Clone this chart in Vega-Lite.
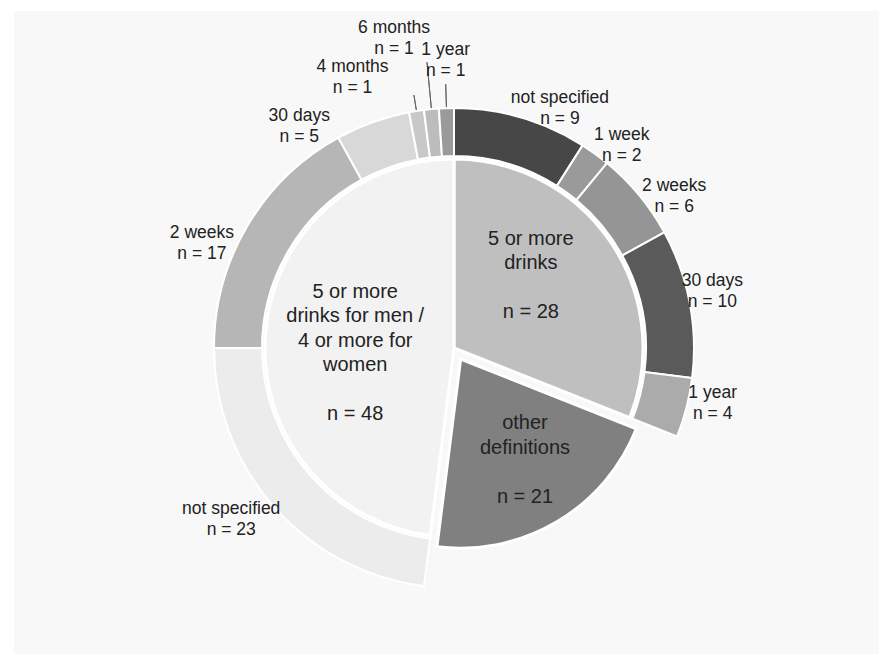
{
  "$schema": "https://vega.github.io/schema/vega-lite/v6.json",
  "width": 865,
  "height": 643,
  "autosize": "none",
  "padding": {"left": 14, "top": 11, "right": 0, "bottom": 0},
  "background": "#ffffff",
  "view": {"stroke": null, "fill": "#f8f8f8"},
  "config": {
    "text": {"font": "Liberation Sans", "color": "#222222", "lineBreak": "\n"}
  },
  "datasets": {
    "inner": [
      {"key": "I1", "name": "5 or more drinks", "n": 28, "weight": 31, "ord": 1, "label": "5 or more\ndrinks", "nlabel": "n = 28"},
      {"key": "I2", "name": "other definitions", "n": 21, "weight": 21, "ord": 2, "label": "other\ndefinitions", "nlabel": "n = 21"},
      {"key": "I3", "name": "5 or more drinks for men / 4 or more for women", "n": 48, "weight": 48, "ord": 3, "label": "5 or more\ndrinks for men /\n4 or more for\nwomen", "nlabel": "n = 48"}
    ],
    "outer": [
      {"key": "A1", "group": "5 or more drinks", "period": "not specified", "n": 9, "ord": 1, "label": "not specified\nn = 9"},
      {"key": "A2", "group": "5 or more drinks", "period": "1 week", "n": 2, "ord": 2, "label": "1 week\nn = 2"},
      {"key": "A3", "group": "5 or more drinks", "period": "2 weeks", "n": 6, "ord": 3, "label": "2 weeks\nn = 6"},
      {"key": "A4", "group": "5 or more drinks", "period": "30 days", "n": 10, "ord": 4, "label": "30 days\nn = 10"},
      {"key": "A5", "group": "5 or more drinks", "period": "1 year", "n": 4, "ord": 5, "label": "1 year\nn = 4"},
      {"key": "X", "group": "other definitions", "period": "", "n": 21, "ord": 6, "label": ""},
      {"key": "B1", "group": "5 or more drinks for men / 4 or more for women", "period": "not specified", "n": 23, "ord": 7, "label": "not specified\nn = 23"},
      {"key": "B2", "group": "5 or more drinks for men / 4 or more for women", "period": "2 weeks", "n": 17, "ord": 8, "label": "2 weeks\nn = 17"},
      {"key": "B3", "group": "5 or more drinks for men / 4 or more for women", "period": "30 days", "n": 5, "ord": 9, "label": "30 days\nn = 5"},
      {"key": "B4", "group": "5 or more drinks for men / 4 or more for women", "period": "4 months", "n": 1, "ord": 10, "label": "4 months\nn = 1"},
      {"key": "B5", "group": "5 or more drinks for men / 4 or more for women", "period": "6 months", "n": 1, "ord": 11, "label": "6 months\nn = 1"},
      {"key": "B6", "group": "5 or more drinks for men / 4 or more for women", "period": "1 year", "n": 1, "ord": 12, "label": "1 year\nn = 1"}
    ]
  },
  "layer": [
    {
      "data": {"name": "outer"},
      "mark": {"type": "arc", "radius": 240, "radius2": 192, "stroke": "#ffffff", "strokeWidth": 2, "xOffset": 7.5, "yOffset": 15.5},
      "encoding": {
        "theta": {"field": "n", "type": "quantitative", "stack": true},
        "order": {"field": "ord", "type": "quantitative"},
        "color": {"field": "key", "type": "nominal", "legend": null,
          "scale": {"domain": ["I1","I2","I3","A1","A2","A3","A4","A5","X","B1","B2","B3","B4","B5","B6"],
                    "range": ["#bfbfbf","#808080","#f2f2f2","#474747","#9a9a9a","#959595","#5a5a5a","#ababab","#ffffff","#ececec","#b6b6b6","#d8d8d8","#c8c8c8","#bcbcbc","#9a9a9a"]}},
        "opacity": {"condition": {"test": "datum.key === 'X'", "value": 0}, "value": 1}
      }
    },
    {
      "data": {"name": "inner"},
      "mark": {"type": "arc", "radius": 189, "stroke": "#ffffff", "strokeWidth": 3, "xOffset": 7.5, "yOffset": 15.5},
      "encoding": {
        "theta": {"field": "weight", "type": "quantitative", "stack": true},
        "order": {"field": "ord", "type": "quantitative"},
        "color": {"field": "key", "type": "nominal", "legend": null,
          "scale": {"domain": ["I1","I2","I3","A1","A2","A3","A4","A5","X","B1","B2","B3","B4","B5","B6"],
                    "range": ["#bfbfbf","#808080","#f2f2f2","#474747","#9a9a9a","#959595","#5a5a5a","#ababab","#ffffff","#ececec","#b6b6b6","#d8d8d8","#c8c8c8","#bcbcbc","#9a9a9a"]}},
        "opacity": {"condition": {"test": "datum.key === 'I2'", "value": 0}, "value": 1}
      }
    },
    {
      "data": {"name": "inner"},
      "mark": {"type": "arc", "radius": 189, "stroke": "#ffffff", "strokeWidth": 3, "xOffset": 14.1, "yOffset": 26.7},
      "encoding": {
        "theta": {"field": "weight", "type": "quantitative", "stack": true},
        "order": {"field": "ord", "type": "quantitative"},
        "color": {"field": "key", "type": "nominal", "legend": null,
          "scale": {"domain": ["I1","I2","I3","A1","A2","A3","A4","A5","X","B1","B2","B3","B4","B5","B6"],
                    "range": ["#bfbfbf","#808080","#f2f2f2","#474747","#9a9a9a","#959595","#5a5a5a","#ababab","#ffffff","#ececec","#b6b6b6","#d8d8d8","#c8c8c8","#bcbcbc","#9a9a9a"]}},
        "opacity": {"condition": {"test": "datum.key === 'I2'", "value": 1}, "value": 0}
      }
    },
    {
      "data": {"name": "outer"},
      "mark": {"type": "arc", "radius": 264, "radius2": 241, "padAngle": 0.2, "stroke": "#666666", "strokeWidth": 1, "fillOpacity": 0, "xOffset": 7.5, "yOffset": 15.5},
      "encoding": {
        "theta": {"field": "n", "type": "quantitative", "stack": true},
        "order": {"field": "ord", "type": "quantitative"},
        "opacity": {"condition": {"test": "datum.key === 'B6'", "value": 1}, "value": 0}
      }
    },
    {
      "data": {"name": "outer"},
      "mark": {"type": "arc", "radius": 287, "radius2": 241, "padAngle": 0.2, "stroke": "#666666", "strokeWidth": 1, "fillOpacity": 0, "xOffset": 7.5, "yOffset": 15.5},
      "encoding": {
        "theta": {"field": "n", "type": "quantitative", "stack": true},
        "order": {"field": "ord", "type": "quantitative"},
        "opacity": {"condition": {"test": "datum.key === 'B5'", "value": 1}, "value": 0}
      }
    },
    {
      "data": {"name": "outer"},
      "mark": {"type": "arc", "radius": 256, "radius2": 241, "padAngle": 0.2, "stroke": "#666666", "strokeWidth": 1, "fillOpacity": 0, "xOffset": 7.5, "yOffset": 15.5},
      "encoding": {
        "theta": {"field": "n", "type": "quantitative", "stack": true},
        "order": {"field": "ord", "type": "quantitative"},
        "opacity": {"condition": {"test": "datum.key === 'B4'", "value": 1}, "value": 0}
      }
    },
    {
      "data": {"name": "inner"},
      "mark": {"type": "text", "radius": 105, "fontSize": 20, "lineHeight": 24.5, "dx": -2.5, "dy": -34.75},
      "encoding": {
        "theta": {"field": "weight", "type": "quantitative", "stack": true},
        "order": {"field": "ord", "type": "quantitative"},
        "text": {"field": "label", "type": "nominal"},
        "opacity": {"condition": {"test": "datum.key === 'I1'", "value": 1}, "value": 0}
      }
    },
    {
      "data": {"name": "inner"},
      "mark": {"type": "text", "radius": 105, "fontSize": 20, "lineHeight": 24.5, "dx": -2.5, "dy": 38.75},
      "encoding": {
        "theta": {"field": "weight", "type": "quantitative", "stack": true},
        "order": {"field": "ord", "type": "quantitative"},
        "text": {"field": "nlabel", "type": "nominal"},
        "opacity": {"condition": {"test": "datum.key === 'I1'", "value": 1}, "value": 0}
      }
    },
    {
      "data": {"name": "inner"},
      "mark": {"type": "text", "radius": 119, "fontSize": 20, "lineHeight": 24.5, "dx": 17.9, "dy": -11.65},
      "encoding": {
        "theta": {"field": "weight", "type": "quantitative", "stack": true},
        "order": {"field": "ord", "type": "quantitative"},
        "text": {"field": "label", "type": "nominal"},
        "opacity": {"condition": {"test": "datum.key === 'I2'", "value": 1}, "value": 0}
      }
    },
    {
      "data": {"name": "inner"},
      "mark": {"type": "text", "radius": 119, "fontSize": 20, "lineHeight": 24.5, "dx": 17.9, "dy": 61.85},
      "encoding": {
        "theta": {"field": "weight", "type": "quantitative", "stack": true},
        "order": {"field": "ord", "type": "quantitative"},
        "text": {"field": "nlabel", "type": "nominal"},
        "opacity": {"condition": {"test": "datum.key === 'I2'", "value": 1}, "value": 0}
      }
    },
    {
      "data": {"name": "inner"},
      "mark": {"type": "text", "radius": 99, "fontSize": 20, "lineHeight": 24.5, "dx": 7.5, "dy": -34.75},
      "encoding": {
        "theta": {"field": "weight", "type": "quantitative", "stack": true},
        "order": {"field": "ord", "type": "quantitative"},
        "text": {"field": "label", "type": "nominal"},
        "opacity": {"condition": {"test": "datum.key === 'I3'", "value": 1}, "value": 0}
      }
    },
    {
      "data": {"name": "inner"},
      "mark": {"type": "text", "radius": 99, "fontSize": 20, "lineHeight": 24.5, "dx": 7.5, "dy": 87.75},
      "encoding": {
        "theta": {"field": "weight", "type": "quantitative", "stack": true},
        "order": {"field": "ord", "type": "quantitative"},
        "text": {"field": "nlabel", "type": "nominal"},
        "opacity": {"condition": {"test": "datum.key === 'I3'", "value": 1}, "value": 0}
      }
    },
    {
      "data": {"name": "outer"},
      "mark": {"type": "text", "radius": 265, "fontSize": 17.5, "lineHeight": 21, "dx": 39.5, "dy": 19.5},
      "encoding": {
        "theta": {"field": "n", "type": "quantitative", "stack": true},
        "order": {"field": "ord", "type": "quantitative"},
        "text": {"field": "label", "type": "nominal"},
        "opacity": {"condition": {"test": "datum.key === 'A1'", "value": 1}, "value": 0}
      }
    },
    {
      "data": {"name": "outer"},
      "mark": {"type": "text", "radius": 265, "fontSize": 17.5, "lineHeight": 21, "dx": 19.5, "dy": 17},
      "encoding": {
        "theta": {"field": "n", "type": "quantitative", "stack": true},
        "order": {"field": "ord", "type": "quantitative"},
        "text": {"field": "label", "type": "nominal"},
        "opacity": {"condition": {"test": "datum.key === 'A2'", "value": 1}, "value": 0}
      }
    },
    {
      "data": {"name": "outer"},
      "mark": {"type": "text", "radius": 265, "fontSize": 17.5, "lineHeight": 21, "dx": 23.5, "dy": 22},
      "encoding": {
        "theta": {"field": "n", "type": "quantitative", "stack": true},
        "order": {"field": "ord", "type": "quantitative"},
        "text": {"field": "label", "type": "nominal"},
        "opacity": {"condition": {"test": "datum.key === 'A3'", "value": 1}, "value": 0}
      }
    },
    {
      "data": {"name": "outer"},
      "mark": {"type": "text", "radius": 265, "fontSize": 17.5, "lineHeight": 21, "dx": 5.5, "dy": -2},
      "encoding": {
        "theta": {"field": "n", "type": "quantitative", "stack": true},
        "order": {"field": "ord", "type": "quantitative"},
        "text": {"field": "label", "type": "nominal"},
        "opacity": {"condition": {"test": "datum.key === 'A4'", "value": 1}, "value": 0}
      }
    },
    {
      "data": {"name": "outer"},
      "mark": {"type": "text", "radius": 265, "fontSize": 17.5, "lineHeight": 21, "dx": 9.5, "dy": -5},
      "encoding": {
        "theta": {"field": "n", "type": "quantitative", "stack": true},
        "order": {"field": "ord", "type": "quantitative"},
        "text": {"field": "label", "type": "nominal"},
        "opacity": {"condition": {"test": "datum.key === 'A5'", "value": 1}, "value": 0}
      }
    },
    {
      "data": {"name": "outer"},
      "mark": {"type": "text", "radius": 265, "fontSize": 17.5, "lineHeight": 21, "dx": -16.5, "dy": 1},
      "encoding": {
        "theta": {"field": "n", "type": "quantitative", "stack": true},
        "order": {"field": "ord", "type": "quantitative"},
        "text": {"field": "label", "type": "nominal"},
        "opacity": {"condition": {"test": "datum.key === 'B1'", "value": 1}, "value": 0}
      }
    },
    {
      "data": {"name": "outer"},
      "mark": {"type": "text", "radius": 265, "fontSize": 17.5, "lineHeight": 21, "dx": -16.5, "dy": 35},
      "encoding": {
        "theta": {"field": "n", "type": "quantitative", "stack": true},
        "order": {"field": "ord", "type": "quantitative"},
        "text": {"field": "label", "type": "nominal"},
        "opacity": {"condition": {"test": "datum.key === 'B2'", "value": 1}, "value": 0}
      }
    },
    {
      "data": {"name": "outer"},
      "mark": {"type": "text", "radius": 265, "fontSize": 17.5, "lineHeight": 21, "dx": -57.5, "dy": 33},
      "encoding": {
        "theta": {"field": "n", "type": "quantitative", "stack": true},
        "order": {"field": "ord", "type": "quantitative"},
        "text": {"field": "label", "type": "nominal"},
        "opacity": {"condition": {"test": "datum.key === 'B3'", "value": 1}, "value": 0}
      }
    },
    {
      "data": {"name": "outer"},
      "mark": {"type": "text", "radius": 265, "fontSize": 17.5, "lineHeight": 21, "dx": -52.5, "dy": -4},
      "encoding": {
        "theta": {"field": "n", "type": "quantitative", "stack": true},
        "order": {"field": "ord", "type": "quantitative"},
        "text": {"field": "label", "type": "nominal"},
        "opacity": {"condition": {"test": "datum.key === 'B4'", "value": 1}, "value": 0}
      }
    },
    {
      "data": {"name": "outer"},
      "mark": {"type": "text", "radius": 265, "fontSize": 17.5, "lineHeight": 21, "dx": -27.5, "dy": -41},
      "encoding": {
        "theta": {"field": "n", "type": "quantitative", "stack": true},
        "order": {"field": "ord", "type": "quantitative"},
        "text": {"field": "label", "type": "nominal"},
        "opacity": {"condition": {"test": "datum.key === 'B5'", "value": 1}, "value": 0}
      }
    },
    {
      "data": {"name": "outer"},
      "mark": {"type": "text", "radius": 265, "fontSize": 17.5, "lineHeight": 21, "dx": 7.5, "dy": -18},
      "encoding": {
        "theta": {"field": "n", "type": "quantitative", "stack": true},
        "order": {"field": "ord", "type": "quantitative"},
        "text": {"field": "label", "type": "nominal"},
        "opacity": {"condition": {"test": "datum.key === 'B6'", "value": 1}, "value": 0}
      }
    }
  ]
}
